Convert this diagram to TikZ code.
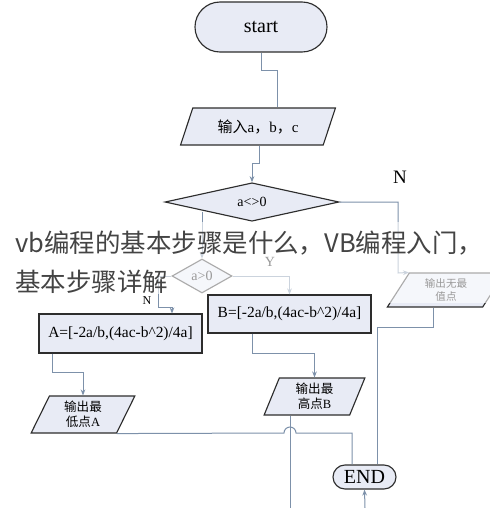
\documentclass[tikz,border=0pt]{standalone}
\usepackage{fontspec}
\setmainfont{Liberation Serif}
\newfontfamily\cjk{Noto Sans CJK SC}
\usetikzlibrary{shapes.geometric,arrows.meta}
\definecolor{boxfill}{RGB}{232,235,245}
\definecolor{connc}{RGB}{125,145,170}
\definecolor{edgec}{RGB}{45,45,45}
\definecolor{wmc}{RGB}{68,68,68}
\tikzset{
  shp/.style={draw=edgec, fill=boxfill, line width=0.85pt, inner sep=0pt},
  term/.style={shp, rectangle},
  proc/.style={shp, rectangle, font=\fontsize{11.6}{14}\selectfont},
  dec/.style={shp, diamond, font=\fontsize{10.5}{12}\selectfont},
  io/.style={shp, trapezium, trapezium stretches=true, align=center},
  lbl/.style={inner sep=0pt},
  conn/.style={draw=connc, line width=0.75pt},
  arr/.style={conn, -{Stealth[length=4.5pt,width=3.5pt]}},
  wmtext/.style={inner sep=0pt, text=wmc, font=\cjk\fontsize{19.1}{24}\selectfont}
}
\begin{document}
\begin{tikzpicture}[x=0.75pt,y=-0.75pt]
\useasboundingbox (0,0) rectangle (490,508);
\fill[white] (0,0) rectangle (490,508);
% nodes
\node[term, minimum width=99pt, minimum height=37.5pt, rounded corners=18.75pt, font=\fontsize{15}{18}\selectfont] (start) at (261,27) {start};
\node[io, trapezium left angle=62, trapezium right angle=118, minimum width=117pt, minimum height=27.75pt, font=\fontsize{11.25}{13}\selectfont] (in) at (258,126.5) {{\cjk 输入}a{\cjk ，}b{\cjk ，}c};
\node[dec, minimum width=130.5pt, minimum height=27.75pt] (d1) at (252,202) {a<>0};
\node[lbl, font=\fontsize{14.25}{16}\selectfont] (n1) at (400,177) {N};
\node[dec, minimum width=45pt, minimum height=25.5pt] (d2) at (202,276) {a>0};
\node[lbl, font=\fontsize{10.5}{12}\selectfont] (ylab) at (270,262) {Y};
\node[proc, minimum width=122.25pt, minimum height=28.5pt] (B) at (289.5,314) {B=[-2a/b,(4ac-b\textasciicircum 2)/4a]};
\node[lbl, font=\fontsize{9}{10}\selectfont] (n2) at (147,301) {N};
\node[proc, minimum width=122.25pt, minimum height=29.25pt] (A) at (120.5,333.5) {A=[-2a/b,(4ac-b\textasciicircum 2)/4a]};
\node[io, trapezium left angle=69, trapezium right angle=111, minimum width=78pt, minimum height=27.75pt, font=\fontsize{9.4}{11.25}\selectfont] (pA) at (83,414.5) {{\cjk 输出最}\\{\cjk 低点}A};
\node[io, trapezium left angle=73, trapezium right angle=107, minimum width=75.75pt, minimum height=27.75pt, font=\fontsize{9.4}{11.25}\selectfont] (pB) at (314.5,396.5) {{\cjk 输出最}\\{\cjk 高点}B};
\node[io, trapezium left angle=61, trapezium right angle=119, minimum width=88pt, minimum height=25.5pt, font=\cjk\fontsize{7.9}{9.75}\selectfont] (pN) at (446,290) {输出无最\\值点};
\node[term, minimum width=47.25pt, minimum height=18pt, rounded corners=9pt, font=\fontsize{15}{18}\selectfont] (END) at (364.5,477) {END};
\coordinate (bot1) at (290,508);
\coordinate (bot2) at (365,508);
% connectors
\draw[conn] (start.south) -- (261,70) -- (277,70) -- (277,0 |- in.north);
\draw[arr] (259,0 |- in.south) -- (259,163) -- (252,163) -- (d1.north);
\draw[arr] (d1.east) -| (398,273) -- (pN.top left corner);
\draw[arr] (d1.south west -| d2.north) -- (d2.north);
\draw[arr] (d2.east) -| (B.north);
\draw[arr] (d2.west) -- (158,276) |- (172,307) -- (172,0 |- A.north);
\draw[arr] (52,0 |- A.south) -- (52,372) -| (pA.north);
\draw[arr] (252,0 |- B.south) -- (252,353) -| (pB.north);
\draw[conn] (pA.bottom right corner) -- (284,433) arc[start angle=180,end angle=360,radius=6] -- (352,433) -- (352,0 |- END.north);
\draw[conn] (433,0 |- pN.south) -- (433,327) -- (377,327) -- (377,0 |- END.north);
\draw[conn] (290,0 |- pB.south) -- (bot1);
\draw[arr] (bot2) -- (END.south);
% watermark
\fill[white,opacity=0.6] (0,222) rectangle (490,294);
\fill[white,opacity=0.6] (380,294) rectangle (490,303);
\node[wmtext, anchor=base west] (wm1) at (15,252) {vb编程的基本步骤是什么，VB编程入门，};
\node[wmtext, anchor=base west] (wm2) at (15,291) {基本步骤详解};
\end{tikzpicture}
\end{document}
